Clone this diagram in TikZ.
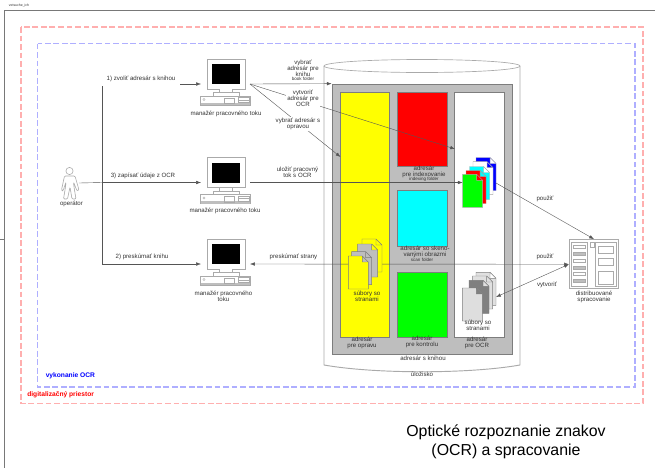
\documentclass[tikz,border=0pt]{standalone}
\usepackage{fontspec}
\setmainfont{Liberation Sans}
\usepackage{xcolor}
\usepackage{tikz}
\usetikzlibrary{arrows.meta, positioning, calc}
\definecolor{framegray}{RGB}{120, 120, 120}
\definecolor{partgray}{RGB}{170, 170, 170}
\definecolor{bookgray}{RGB}{190, 190, 190}
\definecolor{edgegray}{RGB}{125, 125, 125}
\definecolor{textgray}{RGB}{50, 50, 50}
\definecolor{linegray}{RGB}{85, 85, 85}
\definecolor{zonered}{RGB}{255, 175, 175}
\definecolor{zoneblue}{RGB}{175, 175, 255}
\definecolor{purered}{RGB}{255, 0, 0}
\definecolor{pureblue}{RGB}{0, 0, 255}
\definecolor{puregreen}{RGB}{0, 255, 0}
\definecolor{purecyan}{RGB}{0, 255, 255}
\definecolor{pureyellow}{RGB}{255, 255, 0}
\tikzstyle{zone} = [dashed, dash pattern=on 4.4pt off 2pt, line width=1pt]
\tikzstyle{lbl} = [font=\fontsize{4.6}{4.6}\selectfont, text=textgray, align=center, inner sep=0pt]
\tikzstyle{tinylbl} = [font=\fontsize{3.4}{3.4}\selectfont, text=textgray, inner sep=0pt]
\tikzstyle{dirbox} = [draw=edgegray, line width=0.5pt, inner sep=0pt, minimum width=37pt]
\tikzstyle{arrow} = [-{Latex[length=3.6pt,width=2.6pt]}, line width=0.3pt, draw=linegray]
\tikzstyle{bothways} = [{Latex[length=3.6pt,width=2.6pt]}-{Latex[length=3.6pt,width=2.6pt]}, line width=0.3pt, draw=linegray]
\newcommand{\docsheet}[4]{\draw[draw=#4, fill=#3, line width=0.35pt, shift={(#1,#2)}] (0,0) -- (14,0) -- (20,6) -- (20,33) -- (0,33) -- cycle (14,0) -- (14,6) -- (20,6);}

\begin{document}
\begin{tikzpicture}[x=0.75pt, y=-0.75pt]
    \useasboundingbox (0,0) rectangle (655,468);

    % Page frame
    \node[tinylbl, font=\fontsize{2.6}{2.6}\selectfont] (sheetname) at (19,6) {vetsuche\_ich};
    \coordinate (frametop) at (655,10);
    \coordinate (framecorner) at (4.5,10);
    \coordinate (framebottom) at (4.5,468);
    \coordinate (ticka) at (0,239);
    \coordinate (tickb) at (4.5,239);
    \draw[framegray, line width=0.6pt] (frametop) -- (framecorner) -- (framebottom);
    \draw[framegray, line width=0.3pt] (ticka) -- (tickb);

    % Zones
    \draw[zone, zonered] (21,27) rectangle (643,403.5);
    \draw[zone, zoneblue] (37.5,43.5) rectangle (635,387);
    \node[anchor=west, inner sep=0pt, text=pureblue, font=\fontsize{5}{5}\selectfont\bfseries] (ocrzone) at (45.5,376) {vykonanie OCR};
    \node[anchor=west, inner sep=0pt, text=purered, font=\fontsize{5}{5}\selectfont\bfseries] (digizone) at (27,395) {digitalizačný priestor};

    % Storage
    \draw[partgray, fill=white, line width=0.7pt] (324,66) -- (324,365) .. controls (375,374) and (469,374) .. (520,365) -- (520,66);
    \draw[partgray, fill=white, line width=0.5pt] (422,66) ellipse (98 and 6.5);

    % Folders
    \node[dirbox, fill=bookgray, minimum width=135pt, minimum height=202.5pt] (bookdir) at (422,219) {};
    \node[dirbox, fill=pureyellow, minimum height=183.4pt] (fixdir) at (365,214.75) {};
    \node[dirbox, fill=purered, minimum height=55.1pt] (indexdir) at (422.25,129.25) {};
    \node[dirbox, fill=purecyan, minimum height=42pt] (scandir) at (422.25,218.5) {};
    \node[dirbox, fill=puregreen, minimum height=48.75pt] (checkdir) at (422.25,304.5) {};
    \node[dirbox, fill=white, minimum height=183.4pt] (ocrdir) at (479.25,214.75) {};

    % Workstations
    \foreach \wf/\dy in {wfa/0, wfb/98.5, wfc/180} {
        \begin{scope}[shift={(0,\dy)}]
            \node[draw=partgray, fill=white, line width=0.6pt, inner sep=0pt, minimum width=28.5pt, minimum height=22.5pt] (\wf) at (226,74) {};
            \fill[black] (212,64) rectangle (240,84);
            \draw[partgray, line width=0.4pt, fill=white] (219,89) -- (219,92.5) -- (232,92.5) -- (232,89);
            \draw[partgray, line width=0.4pt, fill=white] (213,92.5) rectangle (239,96);
            \draw[partgray, line width=0.5pt, fill=white] (200.5,96) rectangle (250.5,105);
            \fill[bookgray] (201,102.5) rectangle (250,105);
            \draw[partgray, line width=0.3pt] (204,99.5) circle (1.2);
            \draw[partgray, line width=0.4pt] (224,98) rectangle (234.5,103.5);
            \draw[partgray, line width=0.4pt] (238.5,97.5) rectangle (249,102.5) (238.5,100) -- (249,100);
            \coordinate (\wf-in) at (201,84);
            \coordinate (\wf-out) at (250,84);
        \end{scope}
    }

    % Operator
    \draw[partgray, fill=white, line width=0.45pt, rounded corners=0.8pt] (64.5,176) -- (61.5,190) -- (63,191) -- (66,182) -- (65.5,187) -- (63.5,199) -- (67.5,199) -- (70,187) -- (72,199) -- (76,199) -- (74,187) -- (73.5,182) -- (77,191) -- (79,190) -- (75,176) -- cycle;
    \node[draw=partgray, fill=white, circle, line width=0.45pt, inner sep=0pt, minimum size=5.4pt] (operator) at (69.5,171) {};
    \node[lbl] (operatorlbl) at (71.5,204) {operátor};
    \coordinate (operatorout) at (79,183);
    \coordinate (branch) at (102,182.5);

    % Server
    \node[draw=partgray, fill=white, line width=0.7pt, inner sep=0pt, minimum width=37pt, minimum height=37pt] (server) at (594,264.25) {};
    \draw[partgray, line width=0.4pt] (571,242) rectangle (587,286) (595,242) rectangle (616,286);
    \draw[partgray, line width=0.4pt] (590,242) rectangle (594,247);
    \foreach \ry/\rcol in {245/white, 252/bookgray, 259/white, 266/bookgray, 272/white, 279/bookgray} {
        \draw[partgray, line width=0.3pt, fill=\rcol] (573,\ry) rectangle (585,\ry+3.5);
    }
    \foreach \ry/\rh in {246/7, 258/7, 271/13} {
        \draw[partgray, line width=0.3pt] (598,\ry) rectangle (613,\ry+\rh);
    }

    % Connectors
    \coordinate (fixin) at (340.5,157);
    \coordinate (ocrin) at (455,149);
    \coordinate (colorin) at (462.7,182.5);
    \coordinate (colorout) at (496,183);
    \coordinate (grayin) at (496,297);
    \draw[line width=0.3pt, draw=linegray] (operatorout) -- (branch);
    \draw[arrow] (branch) -- (wfb-in);
    \draw[arrow] (branch) |- (wfa-in);
    \draw[arrow] (branch) |- (wfc-in);
    \draw[arrow] (wfa-out) -- (bookdir.north west);
    \draw[arrow] (wfa-out) -- (ocrin);
    \draw[arrow] (wfa-out) -- (fixin);
    \draw[arrow] (wfb-out) -- (colorin);
    \draw[arrow] (colorout) -- (server.north);
    \draw[bothways] (wfc-out) -- (server.west);
    \draw[bothways] (server.west) -- (grayin);

    % Page stacks
    \foreach \px/\py/\pcol in {476/157.5/pureblue, 473/161.7/white, 469.5/166.5/purecyan, 466/170.5/purered, 462.7/174.3/puregreen} {
        \docsheet{\px}{\py}{\pcol}{partgray}
    }
    \foreach \px/\py/\pcol in {362/239/pureyellow, 357.7/244/bookgray, 351.7/251.7/bookgray, 348.3/256/pureyellow} {
        \docsheet{\px}{\py}{\pcol}{edgegray}
    }
    \foreach \px/\py/\pcol in {476/272.3/black!12, 472.7/276/black!12, 469/280.3/black!50, 462.3/288/black!13} {
        \docsheet{\px}{\py}{\pcol}{edgegray}
    }

    % Labels on connectors
    \node[lbl, fill=white, minimum width=58.5pt, minimum height=10.5pt] (stepone) at (141,79) {1) zvoliť adresár s knihou};
    \node[lbl] (stepthree) at (143,176) {3) zapísať údaje z OCR};
    \node[lbl] (steptwo) at (142,257) {2) preskúmať knihu};
    \node[lbl] (pickbook) at (303,68) {vybrať\\adresár pre\\knihu};
    \node[tinylbl] (bookfolder) at (303,78.5) {book folder};
    \node[lbl, fill=white, inner sep=1pt] (makeocr) at (303,98) {vytvoriť\\adresár pre\\OCR};
    \node[lbl, fill=white, inner sep=1pt] (pickfix) at (298,124) {vybrať adresár s\\opravou};
    \node[lbl] (savewf) at (297.5,172) {uložiť pracovný\\tok s OCR};
    \node[lbl] (reviewpages) at (293.5,257) {preskúmať strany};
    \node[lbl] (useone) at (545,199) {použiť};
    \node[lbl] (usetwo) at (545,257) {použiť};
    \node[lbl] (create) at (547,285) {vytvoriť};

    % Labels on parts
    \node[lbl] (wfalbl) at (226,114) {manažér pracovného toku};
    \node[lbl] (wfblbl) at (225,211) {manažér pracovného toku};
    \node[lbl] (wfclbl) at (223.5,296) {manažér pracovného\\toku};
    \node[lbl] (serverlbl) at (594,297) {distribuované\\spracovanie};
    \node[lbl] (fixpages) at (367,296) {súbory so\\stranami};
    \node[lbl] (ocrpages) at (478,325) {súbory so\\stranami};
    \node[lbl] (indexlbl) at (424,172) {adresár\\pre indexovanie};
    \node[tinylbl] (indexfolder) at (424,179) {indexing folder};
    \node[lbl] (scanlbl) at (425,252) {adresár so skeno-\\vanými obrazmi};
    \node[tinylbl] (scanfolder) at (422,260) {scan folder};
    \node[lbl] (fixlbl) at (362,343) {adresár\\pre opravu};
    \node[lbl] (checklbl) at (422,342) {adresár\\pre kontrolu};
    \node[lbl] (ocrlbl) at (477,343) {adresár\\pre OCR};
    \node[lbl] (booklbl) at (423,358) {adresár s knihou};
    \node[lbl] (storagelbl) at (422,374) {úložisko};

    % Title
    \node[align=center, inner sep=0pt, font=\fontsize{11.9}{14.2}\selectfont] (title) at (506,441.5) {Optické rozpoznanie znakov\\(OCR) a spracovanie};
\end{tikzpicture}
\end{document}
